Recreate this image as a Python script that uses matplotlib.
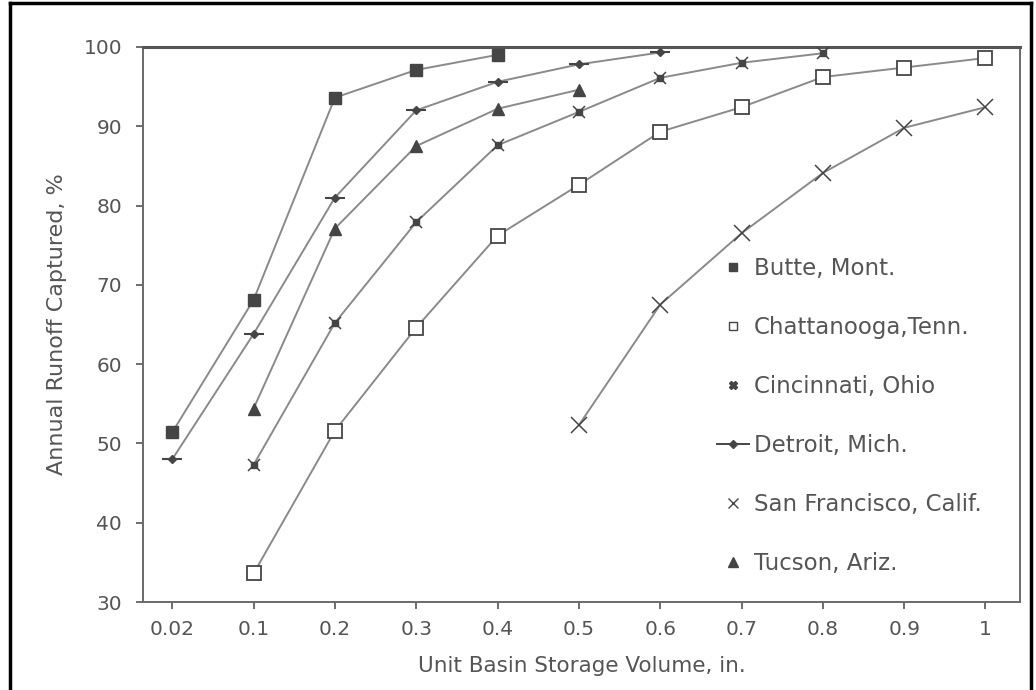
import matplotlib
matplotlib.use("Agg")
import matplotlib.pyplot as plt
from matplotlib.lines import Line2D
import numpy as np

plt.rcParams['font.family'] = ['DejaVu Sans']

x_labels = ["0.02", "0.1", "0.2", "0.3", "0.4", "0.5", "0.6", "0.7", "0.8", "0.9", "1"]

butte_x = ["0.02", "0.1", "0.2", "0.3", "0.4"]
butte_y = [51.4, 68.1, 93.6, 97.1, 99.0]

chatt_x = ["0.1", "0.2", "0.3", "0.4", "0.5", "0.6", "0.7", "0.8", "0.9", "1"]
chatt_y = [33.6, 51.6, 64.6, 76.2, 82.6, 89.3, 92.4, 96.2, 97.4, 98.6]

cinc_x = ["0.1", "0.2", "0.3", "0.4", "0.5", "0.6", "0.7", "0.8"]
cinc_y = [47.3, 65.2, 77.9, 87.6, 91.8, 96.1, 98.0, 99.2]

detr_x = ["0.02", "0.1", "0.2", "0.3", "0.4", "0.5", "0.6"]
detr_y = [48.0, 63.8, 81.0, 92.0, 95.6, 97.8, 99.3]

sf_x = ["0.5", "0.6", "0.7", "0.8", "0.9", "1"]
sf_y = [52.3, 67.5, 76.5, 84.1, 89.8, 92.4]

tucs_x = ["0.1", "0.2", "0.3", "0.4", "0.5"]
tucs_y = [54.4, 77.1, 87.5, 92.2, 94.6]

LINE = "#8a8a8a"
MK = "#454545"
TXT = "#555555"

fig = plt.figure(figsize=(10.36, 6.9), dpi=100)
ax = fig.add_axes([0.138, 0.1275, 0.847, 0.8045])

pos = {lab: i for i, lab in enumerate(x_labels)}
def P(xs):
    return [pos[v] for v in xs]

lw = 1.4
# Butte
ax.plot(P(butte_x), butte_y, color=LINE, lw=lw, marker='s', ms=8,
        mfc=MK, mec=MK, zorder=3)
# Chattanooga
ax.plot(P(chatt_x), chatt_y, color=LINE, lw=lw, marker='s', ms=10,
        mfc='white', mec=MK, mew=1.3, zorder=3)
# Cincinnati
ax.plot(P(cinc_x), cinc_y, color=LINE, lw=lw, zorder=3)
ax.plot(P(cinc_x), cinc_y, ls='none', marker='s', ms=5, mfc=MK, mec=MK, zorder=4)
ax.plot(P(cinc_x), cinc_y, ls='none', marker='x', ms=9, mec=MK, mew=1.1, zorder=4)
# Detroit
ax.plot(P(detr_x), detr_y, color=LINE, lw=lw, marker='D', ms=4.5,
        mfc=MK, mec=MK, zorder=3)
ax.plot(P(detr_x), detr_y, ls='none', marker='_', ms=15, mec=MK, mew=1.5, zorder=4)
# San Francisco
ax.plot(P(sf_x), sf_y, color=LINE, lw=lw, marker='x', ms=11,
        mec=MK, mew=1.1, zorder=3)
# Tucson
ax.plot(P(tucs_x), tucs_y, color=LINE, lw=lw, marker='^', ms=8,
        mfc=MK, mec=MK, zorder=3)

ax.set_xlim(-0.36, 10.43)
ax.set_ylim(30, 100)
ax.set_xticks(range(len(x_labels)))
ax.set_xticklabels(x_labels)
ax.set_yticks(np.arange(30, 101, 10))
ax.tick_params(axis='both', colors=TXT, labelsize=14.5, length=5, width=1.2,
               direction='out')
ax.tick_params(axis='y', pad=10)
ax.tick_params(axis='x', pad=8)
for s in ax.spines.values():
    s.set_color("#6a6a6a")
    s.set_linewidth(1.4)
ax.spines['top'].set_linewidth(2.2)
ax.spines['top'].set_color("#555555")

ax.set_xlabel("Unit Basin Storage Volume, in.", color=TXT, fontsize=15.5, labelpad=12)
ax.set_ylabel("Annual Runoff Captured, %", color=TXT, fontsize=16, labelpad=12)

handles = [
    Line2D([], [], ls='none', marker='s', ms=6, mfc=MK, mec=MK),
    Line2D([], [], ls='none', marker='s', ms=6, mfc='white', mec=MK),
    Line2D([], [], ls='none', marker='X', ms=6, mfc=MK, mec=MK),
    Line2D([], [], color=MK, lw=1.4, marker='D', ms=4, mfc=MK, mec=MK),
    Line2D([], [], ls='none', marker='x', ms=7, mec=MK, mew=1.0),
    Line2D([], [], ls='none', marker='^', ms=7, mfc=MK, mec=MK),
]
labels = ["Butte, Mont.", "Chattanooga,Tenn.", "Cincinnati, Ohio",
          "Detroit, Mich.", "San Francisco, Calif.", "Tucson, Ariz."]
leg = ax.legend(handles, labels, loc='upper left', bbox_to_anchor=(0.644, 0.638),
                frameon=False, fontsize=16.5, labelspacing=1.57, handlelength=1.4,
                handletextpad=0.2, borderaxespad=0)
for t in leg.get_texts():
    t.set_color(TXT)

# outer frame of the scanned figure
fig.add_artist(Line2D([0.0097, 0.0097], [0, 0.996], transform=fig.transFigure,
                      color='black', lw=2.5))
fig.add_artist(Line2D([0.0097, 0.995], [0.996, 0.996], transform=fig.transFigure,
                      color='black', lw=2.5))
fig.add_artist(Line2D([0.995, 0.995], [0, 0.996], transform=fig.transFigure,
                      color='black', lw=2.5))

fig.savefig("out.png", dpi=100)
